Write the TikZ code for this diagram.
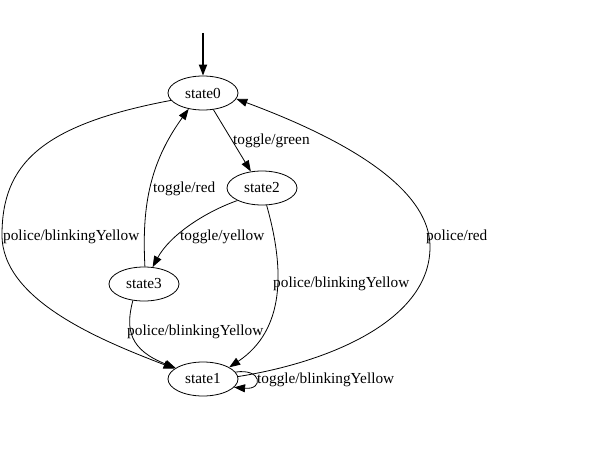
\documentclass[tikz,border=0pt]{standalone}
\usepackage{fontspec}
\setmainfont{Liberation Serif}
\usetikzlibrary{arrows.meta,shapes.geometric}
\begin{document}
\begin{tikzpicture}[x=1pt,y=-1pt,
  st/.style={draw,ellipse,minimum width=70pt,minimum height=34pt,inner sep=0pt,line width=0.8pt,font=\fontsize{15.3}{17}\selectfont},
  lbl/.style={anchor=west,inner sep=0pt,font=\fontsize{15.3}{17}\selectfont},
  edge/.style={line width=0.8pt,-{Triangle[length=11pt,width=8pt]}}]
\useasboundingbox (0,0) rectangle (605,468);
\node[st] (s0) at (203,93) {state0};
\node[st] (s2) at (262,188) {state2};
\node[st] (s3) at (144,284) {state3};
\node[st] (s1) at (203,379) {state1};
\coordinate (init) at (203,33);
\draw[edge,line width=1.8pt] (init) -- (s0.north);
% toggle/green
\draw[edge] (s0.302) -- (s2.124);
\node[lbl] (l1) at (233,141) {toggle/green};
% toggle/yellow
\draw[edge] (s2.207) .. controls (205,212) and (170,235) .. (s3.63);
\node[lbl] (l2) at (180,237) {toggle/yellow};
% toggle/red
\draw[edge] (s3.87) .. controls (142,210) and (148,165) .. (s0.228);
\node[lbl] (l3) at (153,189) {toggle/red};
% police/blinkingYellow left
\draw[edge] (s0.193) .. controls (40,125) and (2,165) .. (2,235) .. controls (2,300) and (100,340) .. (s1.160);
\node[lbl] (l4) at (3,237) {police/blinkingYellow};
% police/blinkingYellow from state3
\draw[edge] (s3.236) .. controls (125,330) and (130,350) .. (s1.158);
\node[lbl] (l5) at (127,332) {police/blinkingYellow};
% police/blinkingYellow from state2
\draw[edge] (s2.285) .. controls (285,270) and (285,330) .. (s1.24);
\node[lbl] (l6) at (273,284) {police/blinkingYellow};
% police/red
\draw[edge] (s1.4) .. controls (330,362) and (430,320) .. (430,247) .. controls (430,180) and (320,130) .. (s0.350);
\node[lbl] (l7) at (426,237) {police/red};
% self loop
\draw[edge] (s1.12) .. controls (262,368) and (264,390) .. (s1.345);
\node[lbl] (l8) at (257,380) {toggle/blinkingYellow};
\end{tikzpicture}
\end{document}
